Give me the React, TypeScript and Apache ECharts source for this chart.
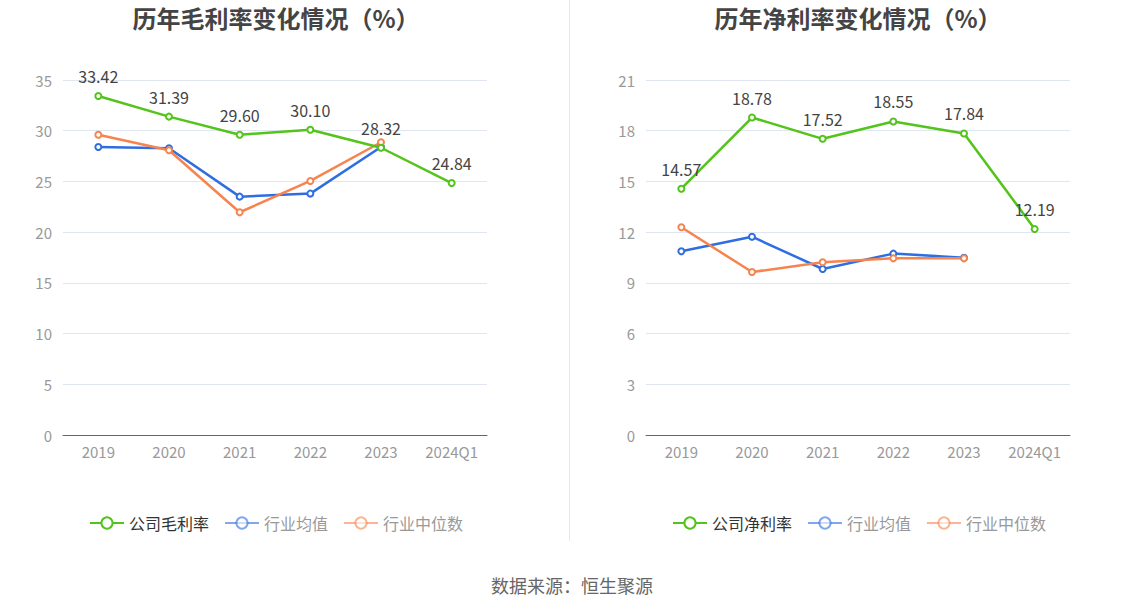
import React, { useEffect, useRef } from "react";
import * as echarts from "echarts";

const categories = ["2019", "2020", "2021", "2022", "2023", "2024Q1"];

const grossCompany = [33.42, 31.39, 29.6, 30.1, 28.32, 24.84];
const grossIndustryAvg = [28.4, 28.27, 23.5, 23.8, 28.4, null];
const grossIndustryMedian = [29.6, 28.08, 21.96, 25.05, 28.86, null];

const netCompany = [14.57, 18.78, 17.52, 18.55, 17.84, 12.19];
const netIndustryAvg = [10.87, 11.73, 9.82, 10.73, 10.49, null];
const netIndustryMedian = [12.29, 9.64, 10.22, 10.45, 10.45, null];

const grossNames = ["公司毛利率", "行业均值", "行业中位数"];
const netNames = ["公司净利率", "行业均值", "行业中位数"];

const GREEN = "#52c41a";
const BLUE = "#2f6ee0";
const ORANGE = "#f7834f";
const FONT = "'Noto Sans CJK SC', 'Noto Sans', sans-serif";

export default function App() {
  const ref = useRef<HTMLDivElement>(null);
  useEffect(() => {
    const chart = echarts.init(ref.current!, null, { renderer: "svg" });
    const makeLine = (
      name: string,
      data: (number | null)[],
      color: string,
      idx: number,
      showLabel: boolean
    ) => ({
      type: "line",
      name,
      data,
      xAxisIndex: idx,
      yAxisIndex: idx,
      symbol: "emptyCircle",
      symbolSize: 6,
      showSymbol: true,
      lineStyle: { color, width: 2.5 },
      itemStyle: { color, borderWidth: 2 },
      label: showLabel
        ? { show: true, position: "top", distance: 8, fontSize: 16, color: "#444", fontFamily: FONT, formatter: (p: any) => p.value.toFixed(2) }
        : { show: false },
      z: showLabel ? 3 : 2,
    });
    const xAxis = (idx: number) => ({
      type: "category",
      gridIndex: idx,
      data: categories,
      boundaryGap: true,
      axisLine: { lineStyle: { color: "#666" } },
      axisTick: { alignWithLabel: true, interval: 0, lineStyle: { color: "#666" } },
      axisLabel: { color: "#999", fontSize: 15, margin: 9, interval: 0, fontFamily: FONT },
    });
    const yAxis = (idx: number, max: number, interval: number) => ({
      type: "value",
      gridIndex: idx,
      min: 0,
      max,
      interval,
      axisLine: { show: false },
      axisTick: { show: false },
      axisLabel: { color: "#999", fontSize: 15, margin: 11, fontFamily: FONT },
      splitLine: { lineStyle: { color: "#e0e6f1" } },
    });
    const legendData = (names: string[]) => [
      { name: names[0], textStyle: { color: "#333" } },
      { name: names[1], textStyle: { color: "#999" }, itemStyle: { opacity: 0.6 }, lineStyle: { opacity: 0.6 } },
      { name: names[2], textStyle: { color: "#999" }, itemStyle: { opacity: 0.6 }, lineStyle: { opacity: 0.6 } },
    ];
    const legendCommon = {
      top: 510,
      itemWidth: 34,
      itemHeight: 14,
      itemGap: 15,
      textStyle: { fontSize: 16, fontFamily: FONT },
      selectedMode: false,
      orient: "horizontal",
      width: 460,
    };
    const titleStyle = { fontSize: 24, lineHeight: 26, fontWeight: "bold", color: "#444", fontFamily: FONT };
    chart.setOption({
      animation: false,
      textStyle: { fontFamily: FONT },
      title: [
        { text: "历年毛利率变化情况（%）", left: 276, top: 4, padding: 0, textAlign: "center", textStyle: titleStyle },
        { text: "历年净利率变化情况（%）", left: 858, top: 4, padding: 0, textAlign: "center", textStyle: titleStyle },
        { text: "数据来源：恒生聚源", left: 567, top: 571, textAlign: "center", textStyle: { fontSize: 18, fontWeight: "normal", color: "#666", fontFamily: FONT } },
      ],
      legend: [
        { ...legendCommon, data: legendData(grossNames), left: 84 },
        { ...legendCommon, data: legendData(netNames), left: 667 },
      ],
      grid: [
        { left: 63, top: 80, width: 424, height: 355 },
        { left: 646, top: 80, width: 424, height: 355 },
      ],
      xAxis: [xAxis(0), xAxis(1)],
      yAxis: [yAxis(0, 35, 5), yAxis(1, 21, 3)],
      graphic: [
        { type: "line", shape: { x1: 569.5, y1: 0, x2: 569.5, y2: 541 }, style: { stroke: "#e8e8e8", lineWidth: 1 } },
      ],
      series: [
        makeLine(grossNames[0], grossCompany, GREEN, 0, true),
        makeLine(grossNames[1], grossIndustryAvg, BLUE, 0, false),
        makeLine(grossNames[2], grossIndustryMedian, ORANGE, 0, false),
        makeLine(netNames[0], netCompany, GREEN, 1, true),
        makeLine(netNames[1], netIndustryAvg, BLUE, 1, false),
        makeLine(netNames[2], netIndustryMedian, ORANGE, 1, false),
      ],
    });
    return () => chart.dispose();
  }, []);
  return (
    <div
      ref={ref}
      style={{ position: "fixed", left: 0, top: 0, width: 1134, height: 612, background: "#fff" }}
    />
  );
}
